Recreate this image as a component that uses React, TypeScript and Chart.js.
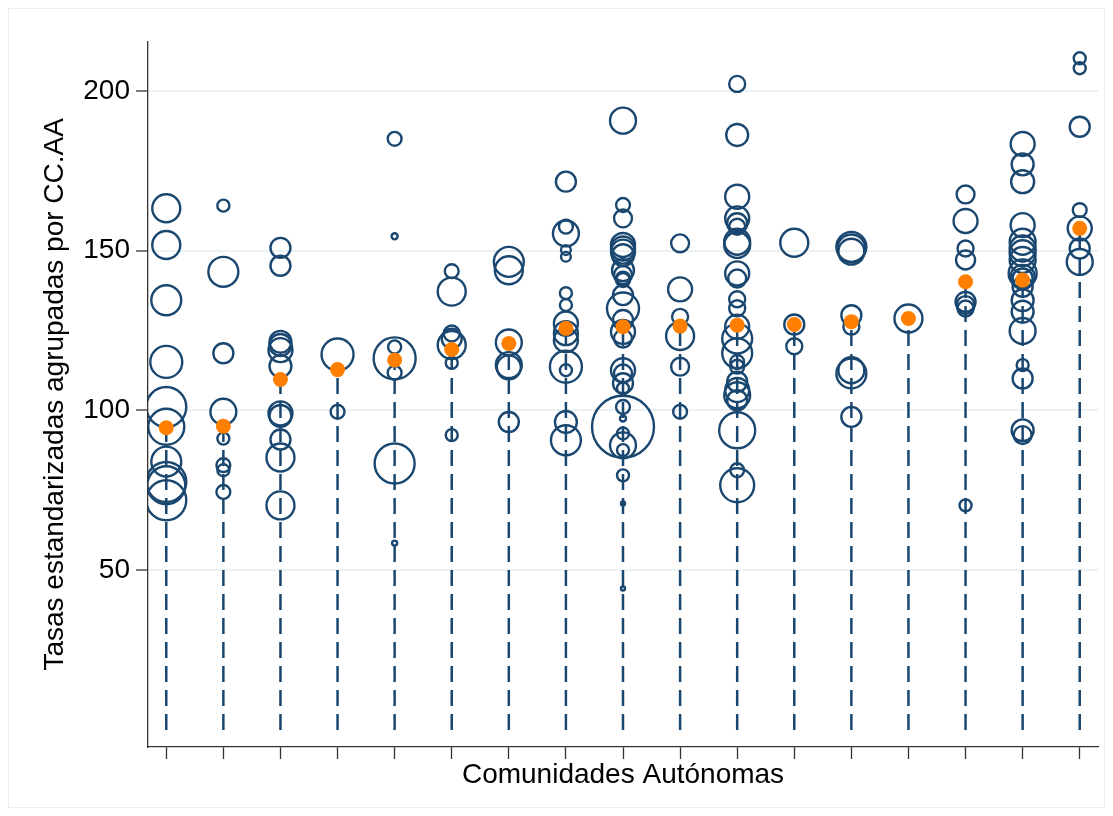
import React, { useEffect, useRef } from 'react';
import { Chart, registerables } from 'chart.js';

Chart.register(...registerables);

// Comunidades Autónomas (posiciones 1..17 en el eje X, sin etiquetas)
const comunidades = [1, 2, 3, 4, 5, 6, 7, 8, 9, 10, 11, 12, 13, 14, 15, 16, 17];

// Media ponderada por CC.AA (punto naranja)
const medias = [94.6, 95.1, 109.7, 112.8, 115.8, 119.1, 121.0, 125.7, 126.2, 126.4, 126.7, 126.9, 127.8, 128.8, 140.3, 140.8, 157.0];

const yTicks = [50, 100, 150, 200];

// Tasas estandarizadas por área y su peso (tamaño de la burbuja)
const tasas01 = [163.3, 151.8, 134.5, 115.2, 101.1, 94.9, 84.0, 77.6, 76.6, 71.9];
const pesos01 = [49, 49, 56, 64, 100, 81, 56, 100, 90, 100];
const tasas02 = [164.1, 143.4, 117.9, 99.6, 91.2, 82.9, 81.3, 74.5];
const pesos02 = [9, 56, 25, 42, 9, 12, 9, 12];
const tasas03 = [150.9, 145.3, 121.5, 120.5, 118.9, 113.9, 99.1, 98.3, 90.9, 85.3, 70.3];
const pesos03 = [25, 25, 30, 30, 36, 30, 36, 30, 25, 49, 49];
const tasas04 = [117.5, 99.6];
const pesos04 = [64, 12];
const tasas05 = [185.0, 154.5, 119.9, 116.3, 111.8, 83.4, 58.5];
const pesos05 = [12, 2.3, 10.6, 110, 12, 100, 1.6];
const tasas06 = [143.6, 137.2, 124.1, 122.5, 120.5, 114.9, 92.3];
const pesos06 = [12, 49, 16, 25, 49, 9, 9];
const tasas07 = [146.5, 143.9, 121.3, 114.2, 113.5, 96.4];
const pesos07 = [56, 49, 42, 42, 36, 25];
const tasas08 = [171.6, 157.5, 155.4, 150.2, 148.1, 136.7, 133.0, 127.2, 124.2, 122.0, 113.7, 112.6, 96.4, 90.7];
const pesos08 = [25, 12, 42, 6, 6, 9, 9, 36, 36, 36, 64, 9, 30, 56];
const tasas09 = [190.7, 164.3, 160.1, 151.8, 150.7, 149.7, 148.6, 143.9, 142.4, 141.3, 140.8, 136.1, 131.9, 128.3, 124.6, 122.5, 112.6, 111.6, 108.5, 106.9, 101.1, 97.5, 94.9, 92.8, 89.1, 87.6, 79.7, 70.9, 44.3];
const pesos09 = [42, 12, 20, 36, 36, 36, 30, 30, 20, 12, 12, 25, 64, 25, 36, 20, 36, 20, 25, 9, 12, 2.3, 240, 9, 42, 9, 9, 1, 1];
const tasas10 = [152.3, 137.9, 129.3, 123.3, 113.7, 99.6];
const pesos10 = [20, 36, 16, 49, 20, 12];
const tasas11 = [202.2, 186.2, 166.9, 160.1, 158.6, 157.5, 152.8, 151.8, 142.9, 141.3, 134.8, 132.0, 126.2, 122.5, 117.9, 115.2, 113.7, 109.0, 106.4, 104.8, 103.2, 93.8, 81.3, 76.6];
const pesos11 = [16, 30, 36, 36, 25, 16, 42, 42, 36, 20, 16, 16, 36, 56, 56, 12, 12, 25, 36, 42, 25, 81, 12, 72];
const tasas12 = [152.5, 126.9, 120.1];
const pesos12 = [49, 25, 16];
const tasas13 = [151.2, 150.7, 149.7, 129.8, 126.2, 112.6, 111.6, 98.0];
const pesos13 = [56, 49, 42, 25, 16, 42, 56, 25];
const tasas14 = [128.8];
const pesos14 = [49];
const tasas15 = [167.6, 159.3, 150.7, 147.1, 134.0, 133.0, 131.9, 70.3];
const pesos15 = [20, 36, 16, 22.6, 25, 20, 16, 9];
const tasas16 = [183.4, 177.0, 171.6, 158.0, 152.8, 150.7, 149.2, 147.1, 142.9, 141.8, 141.3, 138.7, 134.5, 130.9, 124.9, 114.2, 110.0, 93.8, 92.3];
const pesos16 = [36, 30, 33, 36, 42, 42, 42, 42, 49, 36, 25, 25, 30, 30, 42, 9, 25, 30, 20];
const tasas17 = [210.2, 207.1, 188.8, 162.7, 157.0, 150.7, 146.5];
const pesos17 = [9, 9, 25, 12, 36, 25, 42];

const tasas = [tasas01, tasas02, tasas03, tasas04, tasas05, tasas06, tasas07, tasas08, tasas09, tasas10, tasas11, tasas12, tasas13, tasas14, tasas15, tasas16, tasas17];
const pesos = [pesos01, pesos02, pesos03, pesos04, pesos05, pesos06, pesos07, pesos08, pesos09, pesos10, pesos11, pesos12, pesos13, pesos14, pesos15, pesos16, pesos17];

const NAVY = '#1a476f';
const ORANGE = '#ff8000';
const FONT = "'Liberation Sans', Arial, Helvetica, sans-serif";

export default function App() {
  const canvasRef = useRef<HTMLCanvasElement | null>(null);

  useEffect(() => {
    if (!canvasRef.current) return;

    const bubbleData: any[] = [];
    comunidades.forEach((c, i) => {
      tasas[i].forEach((v, j) => {
        bubbleData.push({ x: c, y: v, r: 2 * Math.sqrt(pesos[i][j]) });
      });
    });

    const lineSets = comunidades.map((c, i) => ({
      type: 'line' as const,
      data: [
        { x: c, y: 0 },
        { x: c, y: medias[i] },
      ],
      borderColor: NAVY,
      borderWidth: 2.5,
      borderDash: [16, 8],
      pointRadius: 0,
      pointHoverRadius: 0,
      fill: false,
      order: 2,
    }));

    const chart = new Chart(canvasRef.current, {
      type: 'bubble',
      data: {
        datasets: [
          {
            type: 'scatter' as const,
            data: comunidades.map((c, i) => ({ x: c, y: medias[i] })),
            backgroundColor: ORANGE,
            borderWidth: 0,
            pointRadius: 7.5,
            pointHoverRadius: 7.5,
            order: 0,
          } as any,
          {
            type: 'bubble' as const,
            data: bubbleData,
            backgroundColor: 'rgba(0,0,0,0)',
            borderColor: NAVY,
            borderWidth: 2.4,
            hoverRadius: 0,
            order: 1,
          } as any,
          ...(lineSets as any[]),
        ],
      },
      options: {
        animation: false,
        responsive: true,
        maintainAspectRatio: false,
        events: [],
        layout: { autoPadding: false, padding: { left: 0, top: 32.7, right: 6, bottom: 0 } },
        plugins: {
          legend: { display: false },
          tooltip: { enabled: false },
        },
        scales: {
          x: {
            type: 'linear',
            min: 0.68,
            max: 17.32,
            afterBuildTicks: (s: any) => {
              s.ticks = comunidades.map((v) => ({ value: v }));
            },
            afterFit: (s: any) => {
              s.height = 60;
              s.paddingLeft = 0;
              s.paddingRight = 0;
            },
            ticks: { autoSkip: false, callback: () => '', font: { size: 28, family: FONT } },
            grid: {
              drawOnChartArea: false,
              drawTicks: true,
              tickLength: 12,
              tickColor: '#333',
              tickWidth: 1.3,
            },
            border: { display: true, color: '#333', width: 1.3 },
            title: {
              display: true,
              text: 'Comunidades Autónomas',
              color: '#000',
              font: { size: 28, family: FONT },
              padding: { top: 0, bottom: 15.2 },
            },
          },
          y: {
            type: 'linear',
            min: -5.3,
            max: 215.4,
            afterBuildTicks: (s: any) => {
              s.ticks = yTicks.map((v) => ({ value: v }));
            },
            afterFit: (s: any) => {
              s.width = 139;
              s.paddingTop = 0;
              s.paddingBottom = 0;
            },
            ticks: {
              autoSkip: false,
              color: '#000',
              padding: 6,
              font: { size: 28, family: FONT },
              callback: (v: any) => String(v),
            },
            grid: {
              color: '#eaf2f3',
              lineWidth: 2,
              drawTicks: true,
              tickLength: 12,
              tickColor: '#333',
              tickWidth: 1.3,
            },
            border: { display: true, color: '#333', width: 1.3 },
            title: {
              display: true,
              text: 'Tasas estandarizadas agrupadas por CC.AA',
              color: '#000',
              font: { size: 28, family: FONT },
              padding: { top: 29.2, bottom: 0 },
            },
          },
        },
      } as any,
    });

    return () => {
      chart.destroy();
    };
  }, []);

  return (
    <div
      style={{
        width: 1097,
        height: 800,
        boxSizing: 'border-box',
        border: '1px solid #e8eff2',
        background: '#fff',
        position: 'relative',
      }}
    >
      <canvas ref={canvasRef} />
    </div>
  );
}
